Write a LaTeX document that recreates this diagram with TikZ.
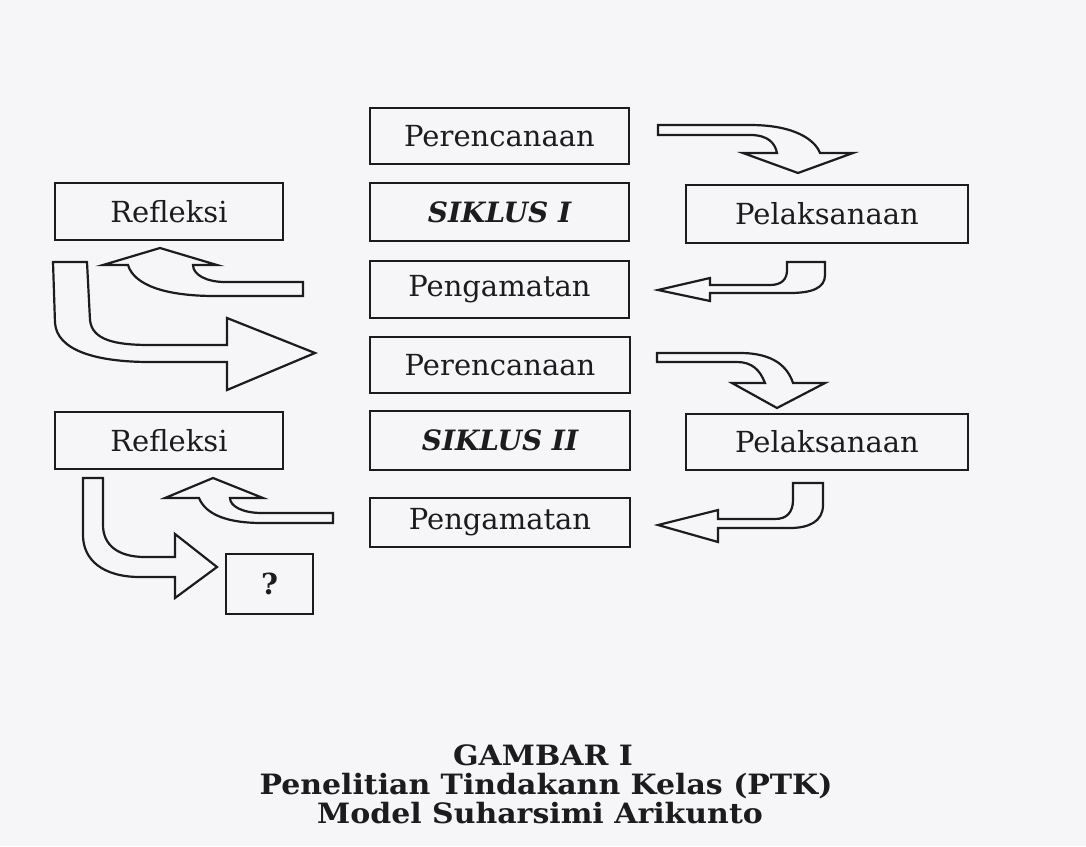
\documentclass[tikz,border=0pt]{standalone}
\usepackage{fontspec}
\setmainfont{DejaVu Serif}
\newfontfamily\captionfont[FakeStretch=1.07]{DejaVu Serif}
\definecolor{paper}{RGB}{246,246,248}
\definecolor{ink}{RGB}{28,28,30}
\begin{document}
\begin{tikzpicture}[x=1pt,y=-1pt,
  box/.style={draw=ink, line width=2.3pt, inner sep=0pt, text=ink,
    font=\fontsize{29}{34}\selectfont},
  cyclebox/.style={box, font=\fontsize{28}{32}\selectfont\bfseries\itshape},
  blockarrow/.style={draw=ink, line width=2.2pt, line join=miter, fill=paper},
  titletext/.style={text=ink, inner sep=0pt, anchor=base,
    font=\captionfont\fontsize{28}{32}\selectfont\bfseries},
]
\fill[paper] (0,0) rectangle (1086,846);
\useasboundingbox (0,0) rectangle (1086,846);

% centre column
\node[box, minimum width=259pt, minimum height=56pt] (per1) at (499.5,136) {Perencanaan};
\node[cyclebox, minimum width=259pt, minimum height=58pt] (sik1) at (499.5,212) {SIKLUS I};
\node[box, minimum width=259pt, minimum height=57pt] (pen1) at (499.5,289.5) {Pengamatan};
\node[box, minimum width=260pt, minimum height=56pt] (per2) at (500,365) {Perencanaan};
\node[cyclebox, minimum width=260pt, minimum height=59pt] (sik2) at (500,440.5) {SIKLUS II};
\node[box, minimum width=260pt, minimum height=49pt] (pen2) at (500,522.5) {Pengamatan};

% left column
\node[box, minimum width=228pt, minimum height=57pt] (ref1) at (169,211.5) {Refleksi};
\node[box, minimum width=228pt, minimum height=57pt] (ref2) at (169,440.5) {Refleksi};
\node[box, minimum width=87pt, minimum height=60pt, font=\fontsize{29}{34}\selectfont\bfseries] (q) at (269.5,584) {?};

% right column
\node[box, minimum width=282pt, minimum height=58pt] (pel1) at (827,214) {Pelaksanaan};
\node[box, minimum width=282pt, minimum height=56pt] (pel2) at (827,442) {Pelaksanaan};

% cycle I arrows
% Perencanaan -> Pelaksanaan
\draw[blockarrow] (658,125) -- (750,125) .. controls (795,125) and (815,140) .. (820,153)
  -- (853,153) -- (798,173) -- (743,153) -- (777,153)
  .. controls (775,143) and (768,135) .. (750,135) -- (658,135) -- cycle;
% Pelaksanaan -> Pengamatan
\draw[blockarrow] (787,262) -- (825,262) -- (825,275) .. controls (825,288) and (812,293) .. (790,293)
  -- (710,293) -- (710,301) -- (658,290) -- (710,278) -- (710,285) -- (770,285)
  .. controls (782,285) and (787,279) .. (787,270) -- cycle;
% Pengamatan -> Refleksi
\draw[blockarrow] (303,282) -- (225,282) .. controls (207,282) and (193,275) .. (193,265)
  -- (217,265) -- (160,248) -- (103,265) -- (128,265)
  .. controls (134,285) and (165,296) .. (215,296) -- (303,296) -- cycle;
% Refleksi -> Perencanaan (cycle II)
\draw[blockarrow] (53,262) -- (87,262) -- (90,320) .. controls (92,340) and (115,345) .. (150,345)
  -- (227,345) -- (227,318) -- (315,353) -- (227,390) -- (227,362) -- (150,362)
  .. controls (95,362) and (57,350) .. (55,323) -- cycle;

% cycle II arrows
% Perencanaan -> Pelaksanaan
\draw[blockarrow] (657,353) -- (740,353) .. controls (775,353) and (788,368) .. (793,383)
  -- (825,383) -- (777,408) -- (732,383) -- (765,383)
  .. controls (760,370) and (752,362) .. (737,362) -- (657,362) -- cycle;
% Pelaksanaan -> Pengamatan
\draw[blockarrow] (793,483) -- (823,483) -- (823,505) .. controls (823,522) and (808,528) .. (790,528)
  -- (718,528) -- (718,542) -- (658,525) -- (718,510) -- (718,519) -- (775,519)
  .. controls (787,519) and (793,512) .. (793,500) -- cycle;
% Pengamatan -> Refleksi
\draw[blockarrow] (333,513) -- (262,513) .. controls (242,513) and (230,506) .. (230,498)
  -- (263,498) -- (213,478) -- (165,498) -- (199,498)
  .. controls (206,515) and (228,523) .. (262,523) -- (333,523) -- cycle;
% Refleksi -> ?
\draw[blockarrow] (83,478) -- (103,478) -- (103,525) .. controls (103,545) and (118,557) .. (145,557)
  -- (175,557) -- (175,534) -- (217,567) -- (175,598) -- (175,577) -- (140,577)
  .. controls (103,577) and (83,560) .. (83,535) -- cycle;

% caption
\node[titletext] (cap1) at (543,765) {GAMBAR I};
\node[titletext] (cap2) at (546,794) {Penelitian Tindakann Kelas (PTK)};
\node[titletext] (cap3) at (540,823) {Model Suharsimi Arikunto};
\end{tikzpicture}
\end{document}
